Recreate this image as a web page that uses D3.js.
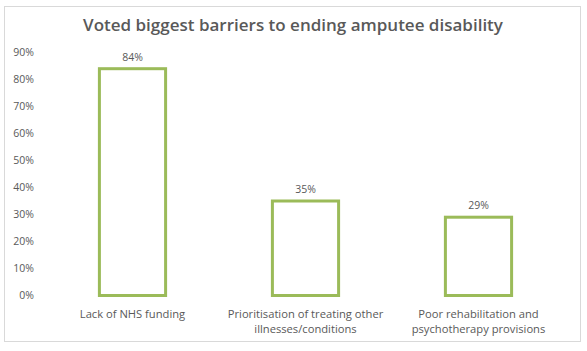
<!DOCTYPE html>
<html>
<head>
<meta charset="utf-8">
<script src="https://cdn.jsdelivr.net/npm/d3@7"></script>
<style>
  body { margin: 0; background: #fff; }
  text { font-family: "Open Sans", "Noto Sans", sans-serif; fill: #595959; }
</style>
</head>
<body>
<div id="chart"></div>
<script>
var width = 587,
    height = 351;

var categories = [
  ["Lack of NHS funding"],
  ["Prioritisation of treating other", "illnesses/conditions"],
  ["Poor rehabilitation and", "psychotherapy provisions"]
];
var values = [84, 35, 29];
var yTicks = [0, 10, 20, 30, 40, 50, 60, 70, 80, 90];

var svg = d3.select("#chart").append("svg")
    .attr("width", width)
    .attr("height", height);

// chart frame
svg.append("rect")
    .attr("x", 4.5).attr("y", 6.5)
    .attr("width", 576).attr("height", 335)
    .attr("fill", "#fff")
    .attr("stroke", "#d9d9d9");

svg.append("text")
    .attr("x", 293).attr("y", 31)
    .attr("text-anchor", "middle")
    .style("font-size", "17px")
    .style("font-weight", "600")
    .text("Voted biggest barriers to ending amputee disability");

var x = d3.scaleBand()
    .domain(d3.range(values.length))
    .range([46, 565])
    .paddingInner(0.6)
    .paddingOuter(0.3);

var y = d3.scaleLinear()
    .domain([0, 90])
    .range([295.5, 52.5]);

// y axis labels
var yAxis = d3.axisLeft(y)
    .tickValues(yTicks)
    .tickSize(0)
    .tickPadding(0)
    .tickFormat(function(d) { return d + "%"; });

var gy = svg.append("g")
    .attr("transform", "translate(34,0)")
    .call(yAxis);
gy.select(".domain").remove();
gy.selectAll("text")
    .style("font-size", "10.5px")
    .style("fill", "#595959")
    .style("font-family", "'Open Sans', sans-serif");

// bars
svg.selectAll("rect.bar")
    .data(values)
  .enter().append("rect")
    .attr("class", "bar")
    .attr("x", function(d, i) { return x(i) + 1.5; })
    .attr("width", x.bandwidth() - 3)
    .attr("y", function(d) { return y(d); })
    .attr("height", function(d) { return y(0) - y(d); })
    .attr("fill", "none")
    .attr("stroke", "#9bbb59")
    .attr("stroke-width", 3);

// value labels
svg.selectAll("text.val")
    .data(values)
  .enter().append("text")
    .attr("class", "val")
    .attr("x", function(d, i) { return x(i) + x.bandwidth() / 2; })
    .attr("y", function(d) { return y(d) - 8; })
    .attr("text-anchor", "middle")
    .style("font-size", "10.5px")
    .text(function(d) { return d + "%"; });

// category labels
var cat = svg.selectAll("text.cat")
    .data(categories)
  .enter().append("text")
    .attr("class", "cat")
    .attr("text-anchor", "middle")
    .attr("x", function(d, i) { return x(i) + x.bandwidth() / 2; })
    .attr("y", 318)
    .style("font-size", "11.2px");

cat.selectAll("tspan")
    .data(function(d) { return d; })
  .enter().append("tspan")
    .attr("x", function() { return d3.select(this.parentNode).attr("x"); })
    .attr("dy", function(d, i) { return i === 0 ? 0 : 15; })
    .text(function(d) { return d; });
</script>
</body>
</html>
